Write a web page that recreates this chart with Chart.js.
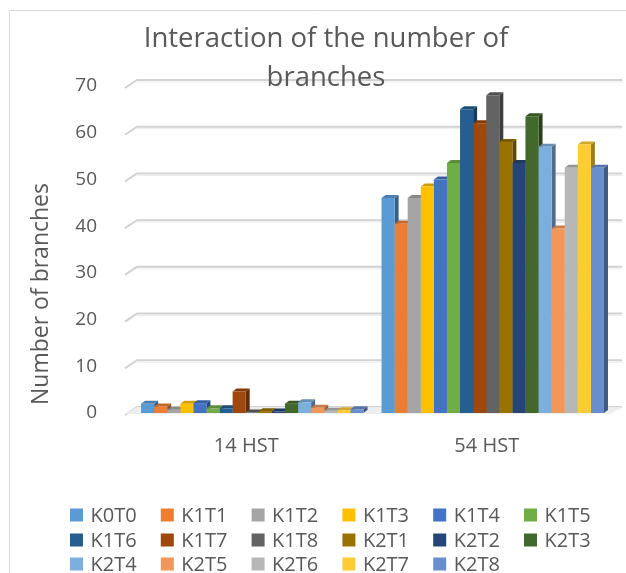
<!DOCTYPE html>
<html>
<head>
<meta charset="utf-8">
<script src="https://cdn.jsdelivr.net/npm/chart.js@4/dist/chart.umd.min.js"></script>
<style>
  html, body { margin: 0; padding: 0; background: #ffffff; }
  canvas { display: block; }
</style>
</head>
<body>
<canvas id="c" width="626" height="573"></canvas>
<script>
// Sampling times on the category axis
const categories = ['14 HST', '54 HST'];

// Treatment series
const seriesNames = ['K0T0', 'K1T1', 'K1T2', 'K1T3', 'K1T4', 'K1T5', 'K1T6', 'K1T7', 'K1T8',
                     'K2T1', 'K2T2', 'K2T3', 'K2T4', 'K2T5', 'K2T6', 'K2T7', 'K2T8'];

// Number of branches per treatment
const branches14 = [2.0, 1.4, 0.7, 2.0, 2.1, 1.0, 1.0, 4.6, 0.1, 0.4, 0.3, 2.0, 2.3, 1.1, 0.5, 0.6, 0.8];
const branches54 = [46, 40.5, 46, 48.5, 50, 53.5, 65, 62, 68, 58, 53.5, 63.5, 57, 39.5, 52.5, 57.5, 52.5];

// Value axis ticks
const yTicks = [0, 10, 20, 30, 40, 50, 60, 70];

const seriesColors = ['#5B9BD5', '#ED7D31', '#A5A5A5', '#FFC000', '#4472C4', '#70AD47',
                      '#255E91', '#9E480E', '#636363', '#997300', '#264478', '#43682B',
                      '#7CAFDD', '#F1975A', '#B7B7B7', '#FFCD33', '#698ED0'];

const TEXT = '#595959';
const FONT = '"Open Sans", "DejaVu Sans", sans-serif';
const DEPTH_X = 4, DEPTH_Y = 3;       // bar extrusion
const WALL_X = 5, WALL_Y = 6;         // back wall offset from the front plane

function shade(hex, f) {
  const n = parseInt(hex.slice(1), 16);
  const r = Math.round(((n >> 16) & 255) * f);
  const g = Math.round(((n >> 8) & 255) * f);
  const b = Math.round((n & 255) * f);
  return `rgb(${r},${g},${b})`;
}

// Back wall gridlines, floor and the extruded sides/tops of the columns
const depthPlugin = {
  id: 'depth',
  beforeDatasetsDraw(chart) {
    const { ctx, chartArea: a, scales: { y } } = chart;
    ctx.save();
    // gridlines on the back wall with a short slanted return on the side wall
    yTicks.forEach(v => {
      const yf = y.getPixelForValue(v);
      const yb = yf - WALL_Y;
      ctx.strokeStyle = '#d2d2d2';
      ctx.lineWidth = 2;
      ctx.beginPath();
      ctx.moveTo(a.left - 7, yb + 8);
      ctx.lineTo(a.left + WALL_X, yb);
      ctx.lineTo(a.right + 9, yb);
      ctx.stroke();
      ctx.strokeStyle = '#ececec';
      ctx.lineWidth = 1;
      ctx.beginPath();
      ctx.moveTo(a.left + WALL_X, yb + 2);
      ctx.lineTo(a.right + 9, yb + 2);
      ctx.stroke();
    });
    // floor
    const y0 = y.getPixelForValue(0);
    ctx.fillStyle = '#eeeeee';
    ctx.beginPath();
    ctx.moveTo(a.left - 7, y0 + 1);
    ctx.lineTo(a.right - 3, y0 + 1);
    ctx.lineTo(a.right + 9, y0 - WALL_Y);
    ctx.lineTo(a.left + WALL_X, y0 - WALL_Y);
    ctx.closePath();
    ctx.fill();

    const bars = [];
    chart.data.datasets.forEach((ds, di) => {
      const meta = chart.getDatasetMeta(di);
      meta.data.forEach(el => bars.push({ el, color: ds.backgroundColor }));
    });
    // side faces first, then top faces; the fronts are drawn by Chart.js afterwards
    bars.forEach(({ el, color }) => {
      const r = el.x + el.width / 2;
      ctx.fillStyle = shade(color, 0.62);
      ctx.beginPath();
      ctx.moveTo(r, el.y);
      ctx.lineTo(r + DEPTH_X, el.y - DEPTH_Y);
      ctx.lineTo(r + DEPTH_X, el.base - DEPTH_Y);
      ctx.lineTo(r, el.base);
      ctx.closePath();
      ctx.fill();
    });
    bars.forEach(({ el, color }) => {
      const l = el.x - el.width / 2, r = el.x + el.width / 2;
      ctx.fillStyle = shade(color, 0.82);
      ctx.beginPath();
      ctx.moveTo(l, el.y);
      ctx.lineTo(l + DEPTH_X, el.y - DEPTH_Y);
      ctx.lineTo(r + DEPTH_X, el.y - DEPTH_Y);
      ctx.lineTo(r, el.y);
      ctx.closePath();
      ctx.fill();
    });
    ctx.restore();
  }
};

// Frame, title, value-axis title and legend
const decorPlugin = {
  id: 'decor',
  afterDraw(chart) {
    const { ctx } = chart;
    ctx.save();
    ctx.strokeStyle = '#d9d9d9';
    ctx.lineWidth = 1;
    ctx.beginPath();
    ctx.moveTo(9.5, 573);
    ctx.lineTo(9.5, 10.5);
    ctx.lineTo(626, 10.5);
    ctx.stroke();

    ctx.fillStyle = TEXT;
    ctx.textAlign = 'center';
    ctx.textBaseline = 'alphabetic';
    ctx.font = `27.5px ${FONT}`;
    ctx.fillText('Interaction of the number of', 326, 47);
    ctx.fillText('branches', 326, 86);

    ctx.save();
    ctx.translate(41, 294);
    ctx.rotate(-Math.PI / 2);
    ctx.font = `23px ${FONT}`;
    ctx.textBaseline = 'middle';
    ctx.fillText('Number of branches', 0, 0);
    ctx.restore();

    const rows = [515, 540, 564];
    ctx.font = `20px ${FONT}`;
    ctx.textAlign = 'left';
    ctx.textBaseline = 'middle';
    chart.data.datasets.forEach((ds, i) => {
      const x = 70 + (i % 6) * 90.8;
      const yc = rows[Math.floor(i / 6)];
      ctx.fillStyle = ds.backgroundColor;
      ctx.fillRect(x, yc - 6.5, 13, 13);
      ctx.fillStyle = TEXT;
      ctx.fillText(ds.label, x + 20.5, yc + 1);
    });
    ctx.restore();
  }
};

new Chart(document.getElementById('c'), {
  type: 'bar',
  data: {
    labels: categories,
    datasets: seriesNames.map((name, i) => ({
      label: name,
      data: [branches14[i], branches54[i]],
      backgroundColor: seriesColors[i],
      borderWidth: 0,
      barPercentage: 1,
      categoryPercentage: 0.925
    }))
  },
  options: {
    responsive: false,
    animation: false,
    layout: { padding: { left: 0, right: 13, top: 86, bottom: 100 } },
    plugins: { legend: { display: false }, title: { display: false }, tooltip: { enabled: false } },
    scales: {
      x: {
        grid: { display: false },
        border: { display: false },
        ticks: { color: TEXT, font: { family: FONT, size: 20 }, padding: 13, labelOffset: -6 },
        afterFit(s) { s.height = 60; }
      },
      y: {
        min: 0,
        max: 70,
        afterBuildTicks(s) { s.ticks = yTicks.map(v => ({ value: v })); },
        grid: { display: false },
        border: { display: false },
        ticks: { color: TEXT, font: { family: FONT, size: 19 }, padding: 27 },
        afterFit(s) { s.width = 132; }
      }
    }
  },
  plugins: [depthPlugin, decorPlugin]
});
</script>
</body>
</html>
